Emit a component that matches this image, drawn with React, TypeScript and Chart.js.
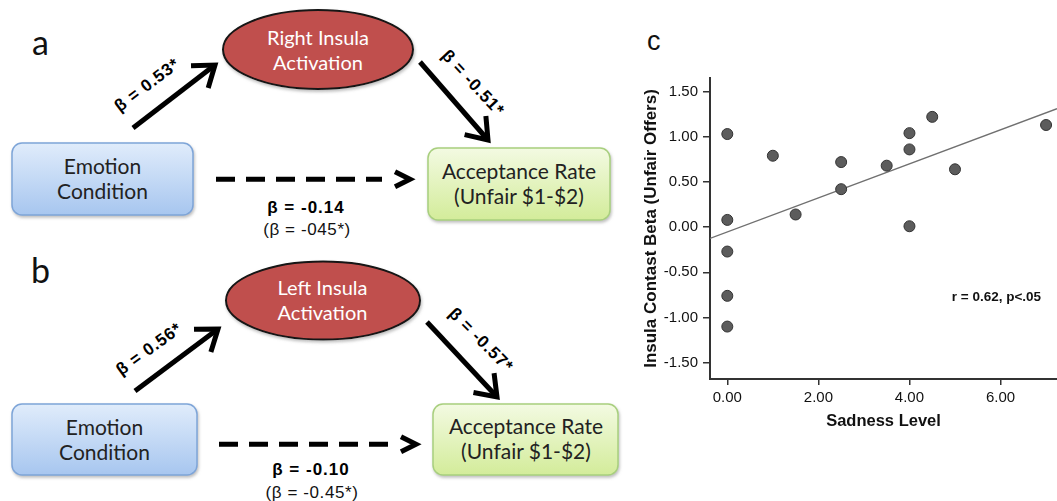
import React, { useEffect, useRef } from "react";
import { Chart, registerables } from "chart.js";

Chart.register(...registerables);

// ---- Panel c data (scatter) ----
const sadnessLevel = [0, 0, 0, 0, 0, 1, 1.5, 2.5, 2.5, 3.5, 4, 4, 4, 4.5, 5, 7];
const insulaBeta = [1.03, 0.08, -0.27, -0.76, -1.1, 0.79, 0.14, 0.72, 0.42, 0.68, 1.04, 0.86, 0.01, 1.22, 0.64, 1.13];
const fitLineX = [-0.38, 7.24];
const fitLineY = [-0.125, 1.31];
const xTickValues = [0, 2, 4, 6];
const yTickValues = [-1.5, -1, -0.5, 0, 0.5, 1, 1.5];
const xRange = [-0.38, 7.24];
const yRange = [-1.68, 1.65];
const xTitle = "Sadness Level";
const yTitle = "Insula Contast Beta (Unfair Offers)";
const statText = "r = 0.62, p<.05";
const statAt = [4.93, -0.78];

// ---- Panels a / b texts ----
const panelLabels = ["a", "b", "c"];
const mediatorLines = [["Right Insula", "Activation"], ["Left Insula", "Activation"]];
const sourceLines = ["Emotion", "Condition"];
const outcomeLines = ["Acceptance Rate", "(Unfair $1-$2)"];
const pathA = ["β = 0.53*", "β = 0.56*"];
const pathB = ["β = -0.51*", "β = -0.57*"];
const directPath = ["β = -0.14", "β = -0.10"];
const totalPath = ["(β = -045*)", "(β = -0.45*)"];

const FONT = "'Liberation Sans', Arial, sans-serif";
const BOXFONT = "Lato, sans-serif";

function Arrow({ x1, y1, x2, y2, barb = 24, spread = 36, w = 5 }: any) {
  const ang = Math.atan2(y2 - y1, x2 - x1);
  const s = (spread * Math.PI) / 180;
  const bx1 = x2 - barb * Math.cos(ang - s);
  const by1 = y2 - barb * Math.sin(ang - s);
  const bx2 = x2 - barb * Math.cos(ang + s);
  const by2 = y2 - barb * Math.sin(ang + s);
  const ex = x2 - 3 * Math.cos(ang);
  const ey = y2 - 3 * Math.sin(ang);
  return (
    <g>
      <line x1={x1} y1={y1} x2={ex} y2={ey} stroke="#000" strokeWidth={w} />
      <polyline points={`${bx1},${by1} ${x2},${y2} ${bx2},${by2}`} fill="none" stroke="#000" strokeWidth={w} strokeLinejoin="miter" strokeMiterlimit={10} />
    </g>
  );
}

function Dashed({ x1, x2, y }: any) {
  return (
    <g>
      <line x1={x1} y1={y} x2={x2 - 30} y2={y} stroke="#000" strokeWidth={5} strokeDasharray="19 11" />
      <polyline points={`${x2 - 17},${y - 7.5} ${x2 - 2},${y} ${x2 - 17},${y + 7.5}`} fill="none" stroke="#000" strokeWidth={5} strokeLinejoin="miter" strokeMiterlimit={10} />
    </g>
  );
}

function RotLabel({ x, y, angle, text }: any) {
  return (
    <text x={x} y={y} transform={`rotate(${angle} ${x} ${y})`} textAnchor="middle" dominantBaseline="central"
      fontFamily={FONT} fontWeight="bold" fontSize={17} letterSpacing={0.8} fill="#000">{text}</text>
  );
}

function Box({ x, y, w, h, grad, stroke, lines, cx, b1, b2 }: any) {
  return (
    <g>
      <rect x={x} y={y} width={w} height={h} rx={10} ry={10} fill={`url(#${grad})`} stroke={stroke} strokeWidth={1.5} filter="url(#shadow)" />
      <text x={cx} y={b1} textAnchor="middle" fontFamily={BOXFONT} fontSize={21} fill="#222">{lines[0]}</text>
      <text x={cx} y={b2} textAnchor="middle" fontFamily={BOXFONT} fontSize={21} fill="#222">{lines[1]}</text>
    </g>
  );
}

function Mediator({ cx, cy, rx, ry, lines, tx, b1, b2 }: any) {
  return (
    <g>
      <ellipse cx={cx} cy={cy} rx={rx} ry={ry} fill="#c0504d" stroke="#151515" strokeWidth={2} filter="url(#shadow)" />
      <text x={tx} y={b1} textAnchor="middle" fontFamily={BOXFONT} fontSize={20} fill="#fff">{lines[0]}</text>
      <text x={tx} y={b2} textAnchor="middle" fontFamily={BOXFONT} fontSize={20} fill="#fff">{lines[1]}</text>
    </g>
  );
}

function Diagrams() {
  return (
    <svg width={640} height={501} style={{ position: "absolute", left: 0, top: 0 }}>
      <defs>
        <linearGradient id="blueG" x1="0" y1="0" x2="0" y2="1">
          <stop offset="0" stopColor="#e0ecfb" />
          <stop offset="1" stopColor="#a7c6ef" />
        </linearGradient>
        <linearGradient id="greenG" x1="0" y1="0" x2="0" y2="1">
          <stop offset="0" stopColor="#f3fae2" />
          <stop offset="1" stopColor="#d3ec9a" />
        </linearGradient>
        <filter id="shadow" x="-10%" y="-10%" width="125%" height="135%">
          <feDropShadow dx="1" dy="2" stdDeviation="1.5" floodColor="#888" floodOpacity="0.55" />
        </filter>
      </defs>

      {/* panel a */}
      <text x={32} y={55} fontFamily={BOXFONT} fontSize={34} fill="#111">{panelLabels[0]}</text>
      <Mediator cx={318} cy={49.5} rx={95} ry={39.5} lines={mediatorLines[0]} tx={318} b1={45} b2={70} />
      <Box x={12} y={143} w={181} h={72} grad="blueG" stroke="#7ea5d8" lines={sourceLines} cx={102.5} b1={174} b2={199} />
      <Box x={428} y={148} w={182} h={72} grad="greenG" stroke="#a8cf7e" lines={outcomeLines} cx={519} b1={179} b2={204} />
      <Arrow x1={133} y1={128} x2={215} y2={65} />
      <Arrow x1={420} y1={62} x2={488} y2={140} />
      <RotLabel x={147} y={85} angle={-37} text={pathA[0]} />
      <RotLabel x={473} y={83} angle={47} text={pathB[0]} />
      <Dashed x1={216} x2={412} y={179.3} />
      <text x={306} y={213} textAnchor="middle" fontFamily={FONT} fontWeight="bold" fontSize={17} letterSpacing={1} fill="#000">{directPath[0]}</text>
      <text x={307} y={235} textAnchor="middle" fontFamily={FONT} fontSize={17} letterSpacing={0.6} fill="#111">{totalPath[0]}</text>

      {/* panel b */}
      <text x={31} y={283} fontFamily={BOXFONT} fontSize={34} fill="#111">{panelLabels[1]}</text>
      <Mediator cx={323} cy={300.5} rx={97} ry={39} lines={mediatorLines[1]} tx={322.5} b1={295} b2={320} />
      <Box x={12} y={404} w={185} h={71} grad="blueG" stroke="#7ea5d8" lines={sourceLines} cx={104.5} b1={435} b2={460} />
      <Box x={433} y={404} w={185} h={71} grad="greenG" stroke="#a8cf7e" lines={outcomeLines} cx={526} b1={434} b2={459} />
      <Arrow x1={135} y1={391} x2={218} y2={329} />
      <Arrow x1={427} y1={322} x2={497} y2={397} />
      <RotLabel x={149} y={349} angle={-36} text={pathA[1]} />
      <RotLabel x={481} y={340} angle={45} text={pathB[1]} />
      <Dashed x1={219} x2={418} y={444.3} />
      <text x={311} y={475} textAnchor="middle" fontFamily={FONT} fontWeight="bold" fontSize={17} letterSpacing={1} fill="#000">{directPath[1]}</text>
      <text x={312} y={498} textAnchor="middle" fontFamily={FONT} fontSize={17} letterSpacing={0.6} fill="#111">{totalPath[1]}</text>
    </svg>
  );
}

function Scatter() {
  const ref = useRef<HTMLCanvasElement | null>(null);
  useEffect(() => {
    if (!ref.current) return;
    const statPlugin = {
      id: "statText",
      afterDatasetsDraw(chart: any) {
        const { ctx, scales } = chart;
        ctx.save();
        ctx.font = `bold 13.5px ${FONT}`;
        ctx.fillStyle = "#111";
        ctx.textAlign = "left";
        ctx.textBaseline = "middle";
        ctx.fillText(statText, scales.x.getPixelForValue(statAt[0]), scales.y.getPixelForValue(statAt[1]));
        ctx.restore();
      },
    };
    const chart = new Chart(ref.current, {
      type: "scatter",
      data: {
        datasets: [
          {
            data: fitLineX.map((x, i) => ({ x, y: fitLineY[i] })),
            showLine: true,
            borderColor: "#707070",
            borderWidth: 1.4,
            pointRadius: 0,
            order: 2,
          },
          {
            data: sadnessLevel.map((x, i) => ({ x, y: insulaBeta[i] })),
            backgroundColor: "#5c5c5c",
            borderColor: "#333333",
            borderWidth: 1,
            pointRadius: 5.5,
            order: 1,
          },
        ],
      },
      options: {
        animation: false,
        responsive: false,
        devicePixelRatio: 1,
        layout: { autoPadding: false, padding: { top: 48, left: 0, right: 0, bottom: 0 } },
        plugins: { legend: { display: false }, tooltip: { enabled: false } },
        scales: {
          x: {
            type: "linear",
            min: xRange[0],
            max: xRange[1],
            afterBuildTicks: (s: any) => { s.ticks = xTickValues.map((v) => ({ value: v })); },
            afterFit: (s: any) => { s.height = 55; },
            ticks: {
              callback: (v: any) => Number(v).toFixed(2),
              color: "#111",
              font: { family: FONT, size: 15 },
              padding: 4,
              maxRotation: 0,
              autoSkip: false,
            },
            grid: { drawOnChartArea: false, drawTicks: true, tickLength: 6, color: "#333", lineWidth: 1.5 },
            border: { display: true, color: "#333", width: 2 },
            title: { display: true, text: xTitle, color: "#111", font: { family: FONT, size: 16.5, weight: "bold" }, padding: { top: 0, bottom: 3 } },
          },
          y: {
            type: "linear",
            min: yRange[0],
            max: yRange[1],
            afterBuildTicks: (s: any) => { s.ticks = yTickValues.map((v) => ({ value: v })); },
            afterFit: (s: any) => { s.width = 80; },
            ticks: {
              callback: (v: any) => Number(v).toFixed(2),
              color: "#111",
              font: { family: FONT, size: 15 },
              padding: 5,
              autoSkip: false,
            },
            grid: { drawOnChartArea: false, drawTicks: true, tickLength: 7, color: "#333", lineWidth: 1.5 },
            border: { display: true, color: "#333", width: 2 },
            title: { display: true, text: yTitle, color: "#111", font: { family: FONT, size: 17, weight: "bold" }, padding: { top: 11, bottom: 0 } },
          },
        },
      },
      plugins: [statPlugin],
    } as any);
    return () => chart.destroy();
  }, []);
  return (
    <canvas ref={ref} width={427} height={404} style={{ position: "absolute", left: 630, top: 30, width: 427, height: 404 }} />
  );
}

export default function App() {
  return (
    <div style={{ position: "absolute", left: 0, top: 0, width: 1057, height: 501, background: "#fff", overflow: "hidden" }}>
      <Diagrams />
      <div style={{ position: "absolute", left: 647, top: 25, fontFamily: FONT, fontSize: 27, color: "#111", lineHeight: "32px" }}>{panelLabels[2]}</div>
      <Scatter />
    </div>
  );
}
